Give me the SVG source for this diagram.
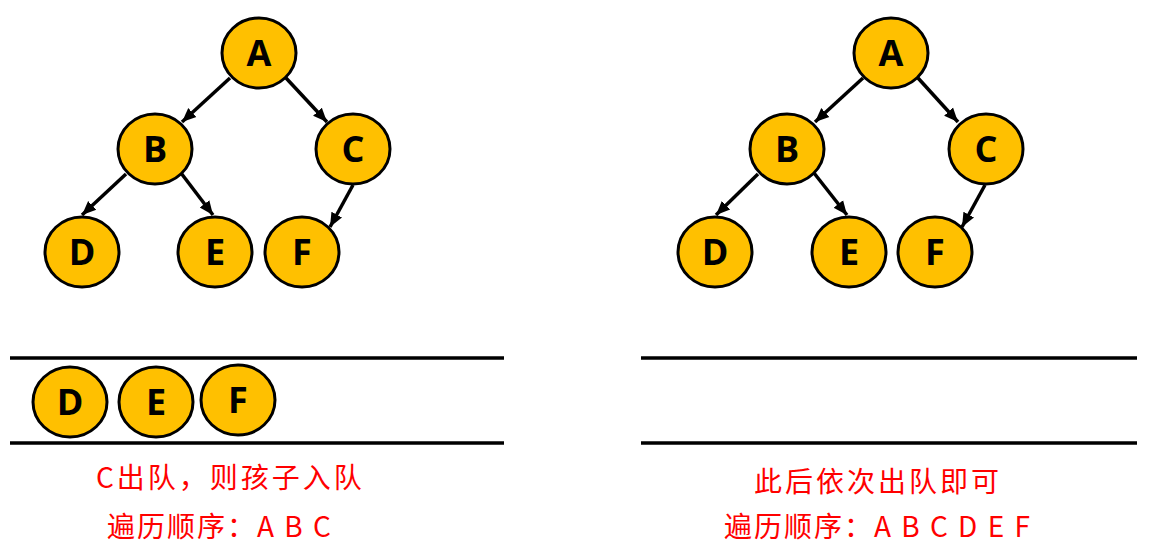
<svg xmlns="http://www.w3.org/2000/svg" width="1165" height="556" viewBox="0 0 1165 556">
<style>
.n ellipse{fill:#FFC000;stroke:#000;stroke-width:3}
.n text{font-family:"Open Sans","Noto Sans",sans-serif;font-weight:700;font-size:36px;fill:#000;text-anchor:middle}
.e line{stroke:#000;stroke-width:3.5;marker-end:url(#ah)}
.q{stroke:#000;stroke-width:3.5}
.t{font-family:"Noto Sans CJK SC","Liberation Sans",sans-serif;font-size:28px;fill:#FF0000;letter-spacing:2px}
.t1{letter-spacing:3px}
</style>
<defs>
<marker id="ah" markerUnits="userSpaceOnUse" markerWidth="16" markerHeight="14" refX="14" refY="6" orient="auto" viewBox="0 0 16 12">
<path d="M0,0 L14,6 L0,12 z" fill="#000"/>
</marker>
</defs>
<rect width="1165" height="556" fill="#fff"/>
<g class="e" id="edges">
<line x1="230" y1="78" x2="182" y2="122"/>
<line x1="286" y1="78" x2="327" y2="122"/>
<line x1="126" y1="174" x2="82" y2="215"/>
<line x1="181" y1="173" x2="213" y2="215"/>
<line x1="353" y1="185" x2="330" y2="227"/>
<line x1="863" y1="78" x2="815" y2="122"/>
<line x1="918" y1="78" x2="958" y2="122"/>
<line x1="758" y1="174" x2="716" y2="215"/>
<line x1="814" y1="173" x2="847" y2="215"/>
<line x1="985" y1="185" x2="962" y2="227"/>
</g>
<g id="L-A" class="n"><ellipse cx="259" cy="53" rx="37" ry="35"/><text x="259" y="66">A</text></g>
<g id="L-B" class="n"><ellipse cx="155" cy="149" rx="37" ry="35"/><text x="155" y="162">B</text></g>
<g id="L-C" class="n"><ellipse cx="353" cy="149" rx="37" ry="35"/><text x="353" y="162">C</text></g>
<g id="L-D" class="n"><ellipse cx="82" cy="252" rx="37" ry="35"/><text x="82" y="265">D</text></g>
<g id="L-E" class="n"><ellipse cx="215" cy="252" rx="37" ry="35"/><text x="215" y="265">E</text></g>
<g id="L-F" class="n"><ellipse cx="302" cy="252" rx="37" ry="35"/><text x="302" y="265">F</text></g>
<g id="R-A" class="n"><ellipse cx="891" cy="53" rx="37" ry="35"/><text x="891" y="66">A</text></g>
<g id="R-B" class="n"><ellipse cx="787" cy="149" rx="37" ry="35"/><text x="787" y="162">B</text></g>
<g id="R-C" class="n"><ellipse cx="986" cy="149" rx="37" ry="35"/><text x="986" y="162">C</text></g>
<g id="R-D" class="n"><ellipse cx="715" cy="252" rx="37" ry="35"/><text x="715" y="265">D</text></g>
<g id="R-E" class="n"><ellipse cx="849" cy="252" rx="37" ry="35"/><text x="849" y="265">E</text></g>
<g id="R-F" class="n"><ellipse cx="935" cy="252" rx="37" ry="35"/><text x="935" y="265">F</text></g>
<g id="queue-left">
<line class="q" x1="10" y1="358" x2="504" y2="358"/>
<line class="q" x1="10" y1="443" x2="504" y2="443"/>
</g>
<g id="queue-right">
<line class="q" x1="641" y1="358" x2="1137" y2="358"/>
<line class="q" x1="641" y1="443" x2="1137" y2="443"/>
</g>
<g id="Q-D" class="n"><ellipse cx="70" cy="402" rx="37" ry="35"/><text x="70" y="415">D</text></g>
<g id="Q-E" class="n"><ellipse cx="156" cy="402" rx="37" ry="35"/><text x="156" y="415">E</text></g>
<g id="Q-F" class="n"><ellipse cx="238" cy="400" rx="37" ry="35"/><text x="238" y="413">F</text></g>
<g id="captions">
<text class="t t1" x="96" y="488">C出队，则孩子入队</text>
<text class="t" x="107" y="537">遍历顺序：A B C</text>
<text class="t t1" x="754" y="492">此后依次出队即可</text>
<text class="t" x="724" y="537">遍历顺序：A B C D E F</text>
</g>
</svg>
